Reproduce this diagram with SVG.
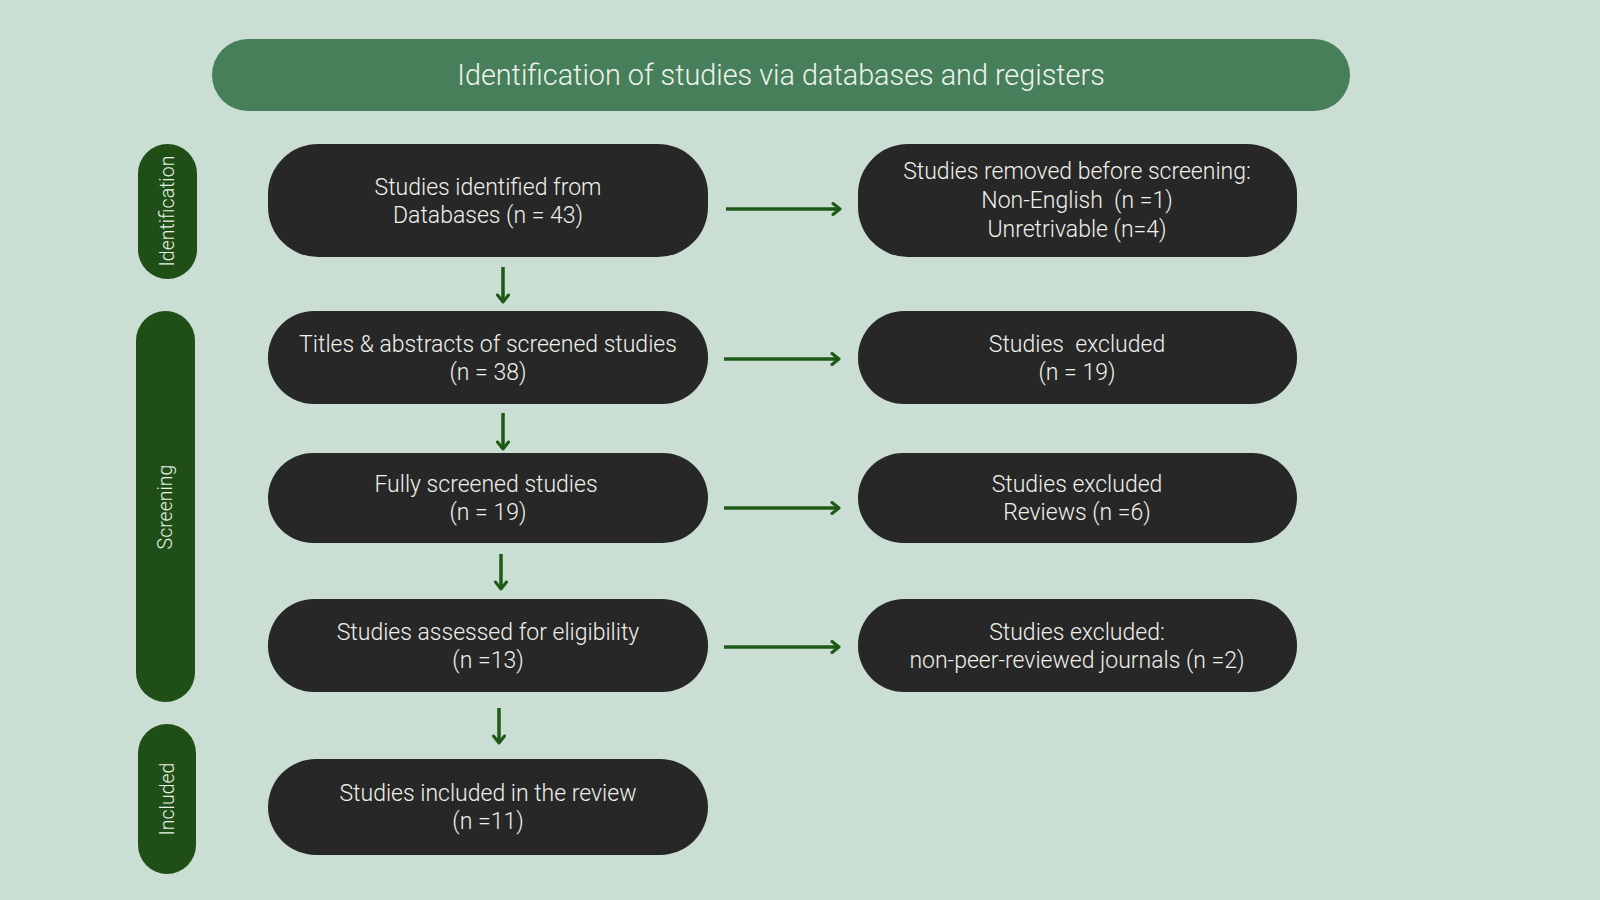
<svg xmlns="http://www.w3.org/2000/svg" width="1600" height="900" viewBox="0 0 1600 900">
<defs>
<style>
.bg{fill:#cbded3}
.hdr{fill:#477f5a}
.side{fill:#1f4f17}
.box{fill:#272727}
.t{font-family:Roboto,"Liberation Sans",sans-serif;font-size:23px;font-weight:300;fill:#f0f0ea;text-anchor:middle;dominant-baseline:central}
.ht{font-family:Roboto,"Liberation Sans",sans-serif;font-size:28.8px;font-weight:300;fill:#eef3ee;text-anchor:middle;dominant-baseline:central}
.st{font-family:Roboto,"Liberation Sans",sans-serif;font-size:19.5px;font-weight:300;fill:#e8efe6;text-anchor:middle;dominant-baseline:central}
.c{stroke:#1e5a17;stroke-width:3.5;fill:none}
</style>
<marker id="ah" viewBox="0 0 14 14" refX="12" refY="7" markerWidth="14" markerHeight="14" markerUnits="userSpaceOnUse" orient="auto">
<path d="M5,1.5 L12,7 L5,12.5" fill="none" stroke="#1e5a17" stroke-width="3" stroke-linecap="round" stroke-linejoin="round"/>
</marker>
</defs>
<rect class="bg" x="0" y="0" width="1600" height="900"/>
<g id="header">
<rect class="hdr" x="212" y="39" width="1138" height="72" rx="36"/>
<text class="ht" x="781" y="75">Identification of studies via databases and registers</text>
</g>
<g id="stage-identification">
<rect class="side" x="138" y="144" width="59" height="135" rx="29.5"/>
<text class="st" transform="translate(167,211) rotate(-90)">Identification</text>
</g>
<g id="stage-screening">
<rect class="side" x="136" y="311" width="59" height="391" rx="29.5"/>
<text class="st" transform="translate(165,507) rotate(-90)">Screening</text>
</g>
<g id="stage-included">
<rect class="side" x="138" y="724" width="58" height="150" rx="29"/>
<text class="st" transform="translate(167,799) rotate(-90)">Included</text>
</g>
<g id="n1">
<rect class="box" x="268" y="144" width="440" height="113" rx="50"/>
<text class="t" x="488" y="187">Studies identified from</text>
<text class="t" x="488" y="215">Databases (n = 43)</text>
</g>
<g id="n2">
<rect class="box" x="268" y="311" width="440" height="93" rx="46"/>
<text class="t" x="488" y="344">Titles &amp; abstracts of screened studies</text>
<text class="t" x="488" y="372">(n = 38)</text>
</g>
<g id="n3">
<rect class="box" x="268" y="453" width="440" height="90" rx="45"/>
<text class="t" x="486" y="484">Fully screened studies</text>
<text class="t" x="488" y="512">(n = 19)</text>
</g>
<g id="n4">
<rect class="box" x="268" y="599" width="440" height="93" rx="46"/>
<text class="t" x="488" y="632">Studies assessed for eligibility</text>
<text class="t" x="488" y="660">(n =13)</text>
</g>
<g id="n5">
<rect class="box" x="268" y="759" width="440" height="96" rx="48"/>
<text class="t" x="488" y="793">Studies included in the review</text>
<text class="t" x="488" y="821">(n =11)</text>
</g>
<g id="r1">
<rect class="box" x="858" y="144" width="439" height="113" rx="50"/>
<text class="t" x="1077" y="171">Studies removed before screening:</text>
<text class="t" x="1077" y="200" xml:space="preserve">Non-English  (n =1)</text>
<text class="t" x="1077" y="229">Unretrivable (n=4)</text>
</g>
<g id="r2">
<rect class="box" x="858" y="311" width="439" height="93" rx="46"/>
<text class="t" x="1077" y="344" xml:space="preserve">Studies  excluded</text>
<text class="t" x="1077" y="372">(n = 19)</text>
</g>
<g id="r3">
<rect class="box" x="858" y="453" width="439" height="90" rx="45"/>
<text class="t" x="1077" y="484">Studies excluded</text>
<text class="t" x="1077" y="512">Reviews (n =6)</text>
</g>
<g id="r4">
<rect class="box" x="858" y="599" width="439" height="93" rx="46"/>
<text class="t" x="1077" y="632">Studies excluded:</text>
<text class="t" x="1077" y="660">non-peer-reviewed journals (n =2)</text>
</g>
<g id="connectors">
<line class="c" x1="726" y1="209" x2="840" y2="209" marker-end="url(#ah)"/>
<line class="c" x1="724" y1="359" x2="839" y2="359" marker-end="url(#ah)"/>
<line class="c" x1="724" y1="508" x2="839" y2="508" marker-end="url(#ah)"/>
<line class="c" x1="724" y1="647" x2="839" y2="647" marker-end="url(#ah)"/>
<line class="c" x1="503" y1="267" x2="503" y2="302" marker-end="url(#ah)"/>
<line class="c" x1="503" y1="413" x2="503" y2="449" marker-end="url(#ah)"/>
<line class="c" x1="501" y1="554" x2="501" y2="589" marker-end="url(#ah)"/>
<line class="c" x1="499" y1="708" x2="499" y2="743" marker-end="url(#ah)"/>
</g>
</svg>
